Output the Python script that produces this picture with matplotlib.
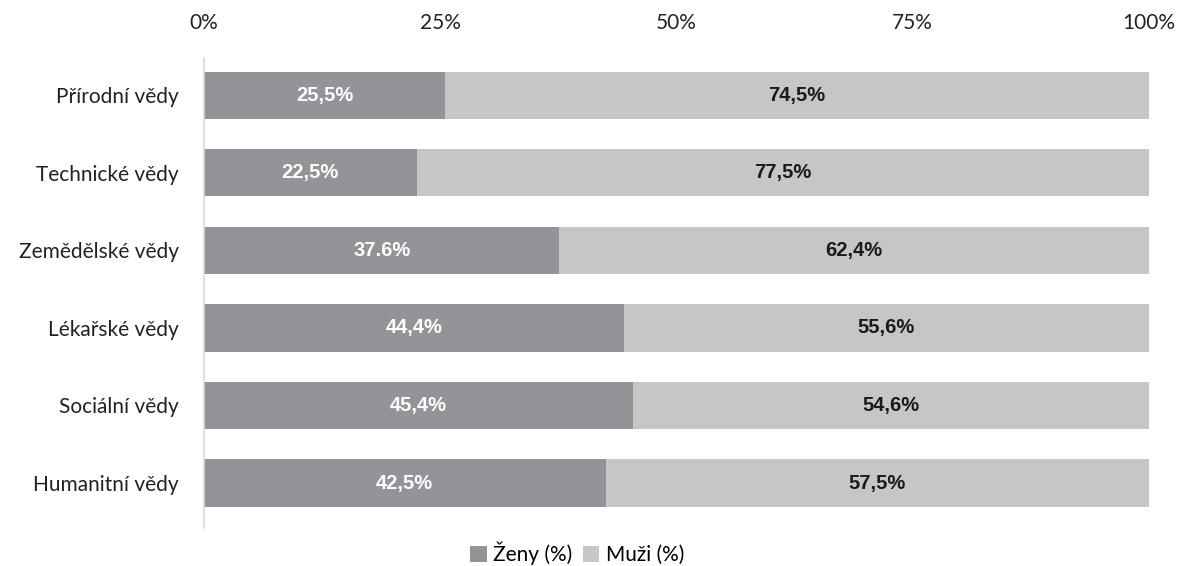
import matplotlib.pyplot as plt
import numpy as np

plt.rcParams['font.family'] = ['Lato', 'DejaVu Sans']

# data
categories = ['Přírodní vědy', 'Technické vědy', 'Zemědělské vědy',
              'Lékařské vědy', 'Sociální vědy', 'Humanitní vědy']
zeny = [25.5, 22.5, 37.6, 44.4, 45.4, 42.5]
muzi = [74.5, 77.5, 62.4, 55.6, 54.6, 57.5]
zeny_labels = ['25,5%', '22,5%', '37.6%', '44,4%', '45,4%', '42,5%']
muzi_labels = ['74,5%', '77,5%', '62,4%', '55,6%', '54,6%', '57,5%']
ticks = [0, 25, 50, 75, 100]

c_zeny = '#939497'
c_muzi = '#c6c6c7'

fig = plt.figure(figsize=(11.77, 5.66), dpi=100)
ax = fig.add_axes([204/1177, 38/566, 945/1177, 470/566])

y = np.arange(len(categories))
ax.barh(y, zeny, height=0.61, color=c_zeny, label='Ženy (%)')
ax.barh(y, muzi, left=zeny, height=0.61, color=c_muzi, label='Muži (%)')

# bold value labels
bold_font = ['Liberation Sans', 'DejaVu Sans']
for i in range(len(categories)):
    ax.text(zeny[i] / 2, y[i], zeny_labels[i], ha='center', va='center',
            color='white', fontsize=14.5, fontweight='bold', family=bold_font)
    ax.text(zeny[i] + muzi[i] / 2, y[i], muzi_labels[i], ha='center', va='center',
            color='#1a1a1a', fontsize=14.5, fontweight='bold', family=bold_font)

ax.set_xlim(0, 100)
ax.set_ylim(len(categories) - 0.42, -0.48)
ax.set_yticks(y)
ax.set_yticklabels(categories, fontsize=15, color='#222222')
ax.set_xticks(ticks)
ax.set_xticklabels([f'{t}%' for t in ticks], fontsize=15, color='#222222')
ax.xaxis.tick_top()
ax.tick_params(axis='both', length=0)
ax.tick_params(axis='x', pad=18)
ax.tick_params(axis='y', pad=18)

for s in ['top', 'right', 'bottom']:
    ax.spines[s].set_visible(False)
ax.spines['left'].set_color('#d9d9d9')
ax.spines['left'].set_linewidth(1.2)

handles, labels = ax.get_legend_handles_labels()
fig.legend(handles, labels, loc='lower center', bbox_to_anchor=(577/1177, 0.0),
           ncol=2, frameon=False, fontsize=15, handlelength=0.8, handleheight=0.8,
           handletextpad=0.3, columnspacing=0.5, borderaxespad=0, borderpad=0.05)

fig.savefig('out.png', dpi=100)
